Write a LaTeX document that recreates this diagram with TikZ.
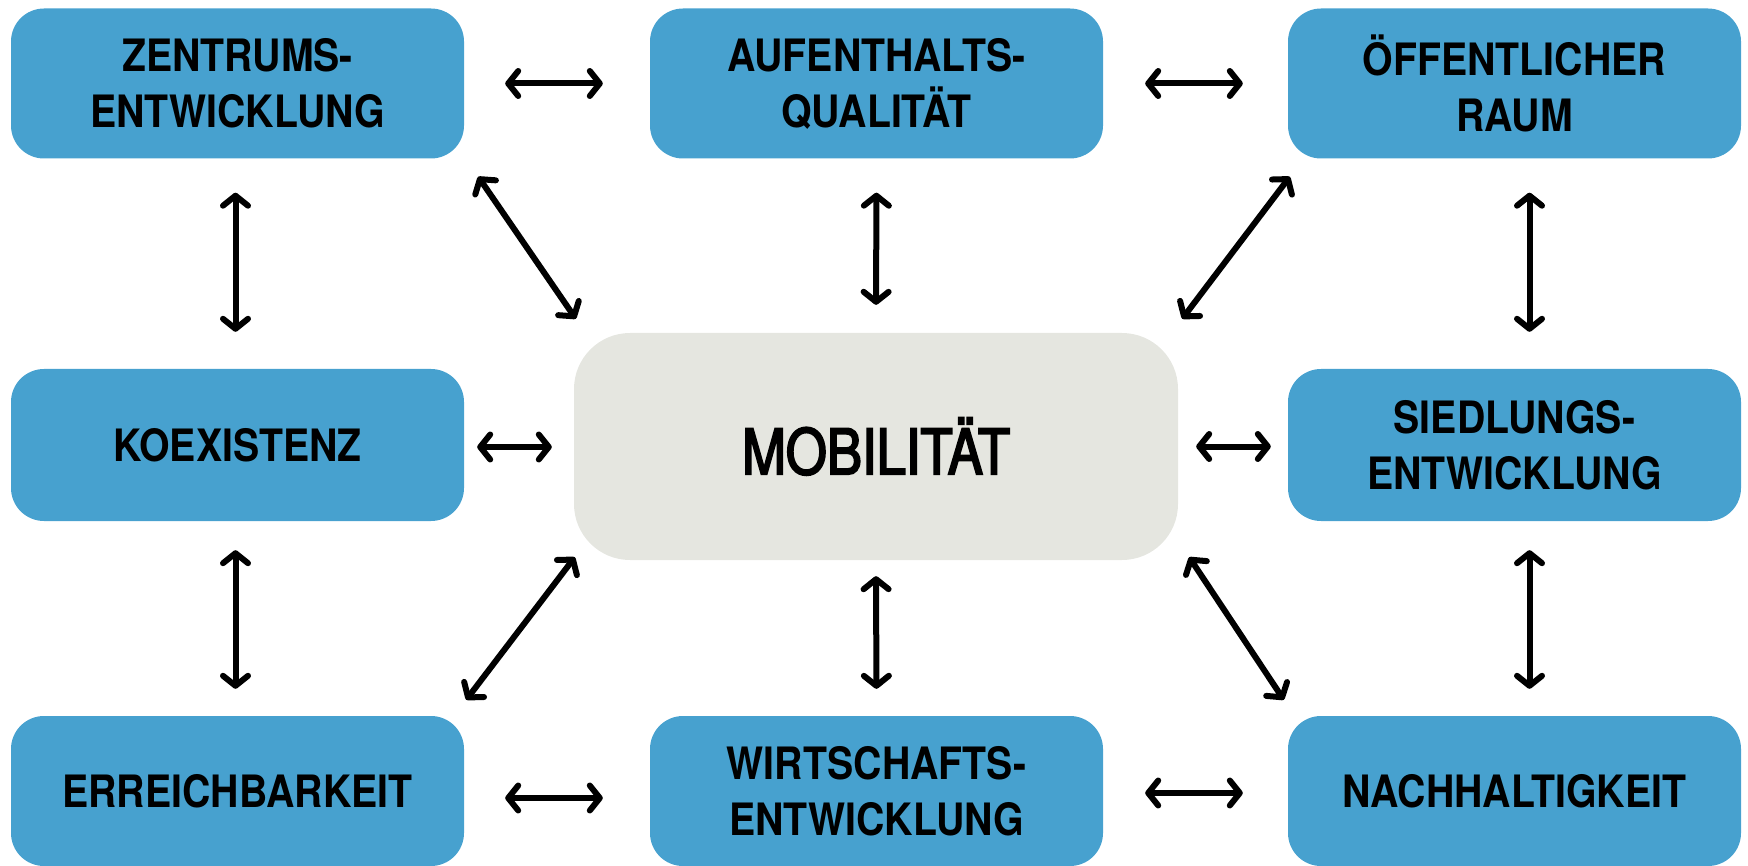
\documentclass[tikz,border=0pt]{standalone}
\usepackage{fontspec}
\setmainfont{TeX Gyre Heros}[FakeStretch=0.88]
\newfontfamily\corefont{TeX Gyre Heros}[FakeStretch=0.84, FakeBold=3]
\usetikzlibrary{arrows.meta,calc}
\definecolor{boxblue}{HTML}{47A1CF}
\definecolor{centergray}{HTML}{E5E6E0}
\tikzset{
  topic/.style={fill=boxblue, rounded corners=33pt, minimum width=453pt, minimum height=150pt,
    inner sep=0pt, align=center, font=\fontsize{44.6}{56}\selectfont\bfseries},
  core/.style={fill=centergray, rounded corners=56pt, minimum width=604pt, minimum height=227pt,
    inner sep=0pt, font=\corefont\fontsize{62.7}{70}\selectfont},
  biarrow/.style={line width=6pt, {Straight Barb[length=10pt,width=25pt,round]}-{Straight Barb[length=10pt,width=25pt,round]}}
}
\begin{document}
\begin{tikzpicture}[x=1pt,y=-1pt]
\useasboundingbox (0,0) rectangle (1748,866);
\node[topic] (zent) at (237.5,83.5) {ZENTRUMS-\\ENTWICKLUNG};
\node[topic] (auf)  at (876.5,83.5) {AUFENTHALTS-\\QUALITÄT};
\node[topic] (oeff) at (1514.5,83.5) {ÖFFENTLICHER\\RAUM};
\node[topic, minimum height=152pt] (koex) at (237.5,445) {KOEXISTENZ};
\node[topic, minimum height=152pt] (sied) at (1514.5,445) {SIEDLUNGS-\\ENTWICKLUNG};
\node[topic] (err)  at (237.5,791) {ERREICHBARKEIT};
\node[topic] (wirt) at (876.5,791) {WIRTSCHAFTS-\\ENTWICKLUNG};
\node[topic] (nach) at (1514.5,791) {NACHHALTIGKEIT};
\node[core] (mob) at (876,446.5) {MOBILITÄT};

% horizontal
\draw[biarrow, shorten <=41pt, shorten >=47pt] (zent.east) -- (auf.west);
\draw[biarrow, shorten <=42pt, shorten >=45pt] (auf.east) -- (oeff.west);
\draw[biarrow, shorten <=41pt, shorten >=47pt] ($(err.east)+(0,7)$) -- ($(wirt.west)+(0,7)$);
\draw[biarrow, shorten <=42pt, shorten >=45pt] ($(wirt.east)+(0,2)$) -- ($(nach.west)+(0,2)$);
\draw[biarrow, shorten <=13pt, shorten >=22pt] ($(koex.east)+(0,2)$) -- ($(mob.west)+(0,0.5)$);
\draw[biarrow, shorten <=18pt, shorten >=17pt] (mob.east) -- ($(sied.west)+(0,1.5)$);
% vertical
\draw[biarrow, shorten <=34pt, shorten >=37pt] ($(zent.south)+(-2,0)$) -- ($(koex.north)+(-2,0)$);
\draw[biarrow, shorten <=29pt, shorten >=27pt] ($(koex.south)+(-2,0)$) -- ($(err.north)+(-2,0)$);
\draw[biarrow, shorten <=34pt, shorten >=37pt] ($(oeff.south)+(15,0)$) -- ($(sied.north)+(15,0)$);
\draw[biarrow, shorten <=29pt, shorten >=27pt] ($(sied.south)+(15,0)$) -- ($(nach.north)+(15,0)$);
\draw[biarrow, shorten <=34pt, shorten >=28pt] (auf.south) -- (mob.north);
\draw[biarrow, shorten <=16pt, shorten >=27pt] (mob.south) -- (wirt.north);
% diagonal
\draw[biarrow] ($(zent.south east)+(14,18)$) -- ($(mob.north west)+(2,-14)$);
\draw[biarrow] ($(oeff.south west)+(2,18)$) -- ($(mob.north east)+(4,-14)$);
\draw[biarrow] ($(err.north east)+(2,-16)$) -- ($(mob.south west)+(1,-3)$);
\draw[biarrow] ($(nach.north west)+(-4,-16)$) -- ($(mob.south east)+(11,-3)$);
\end{tikzpicture}
\end{document}
